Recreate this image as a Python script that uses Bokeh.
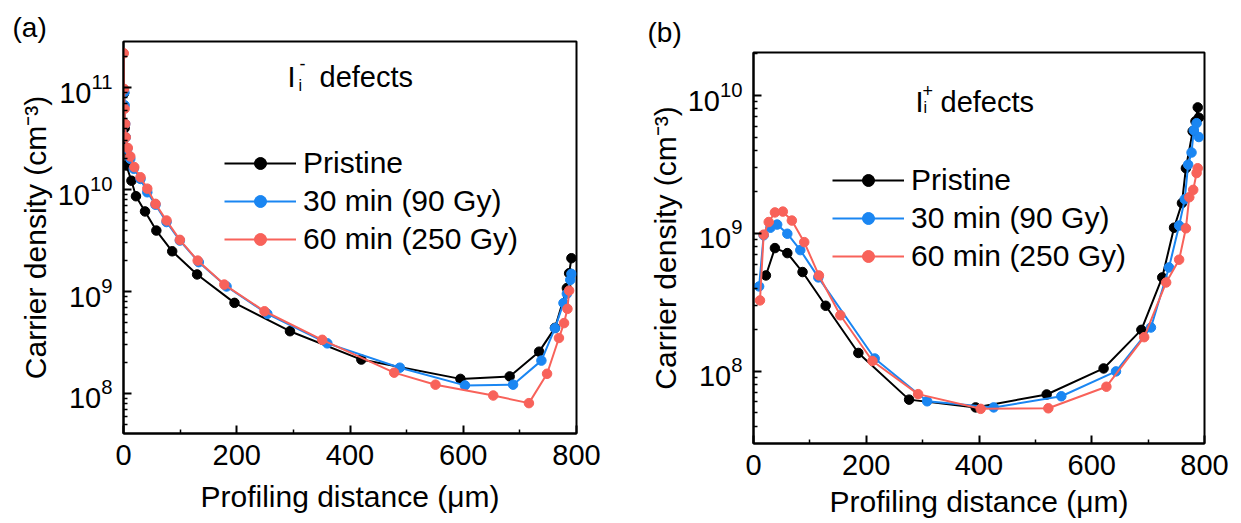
from bokeh.plotting import figure
from bokeh.layouts import row, column
from bokeh.models import Range1d, Legend, LegendItem, Label, FixedTicker
from bokeh.embed import file_html
from bokeh.resources import INLINE

FONT = "Liberation Sans"
COLORS = ["#000000", "#1a86f2", "#f8625a"]
LEGEND_LABELS = ["Pristine", "30 min (90 Gy)", "60 min (250 Gy)"]
X_TICKS = [0, 200, 400, 600, 800]
X_MINOR = [100, 300, 500, 700]
Y_TICKS_A = [1e8, 1e9, 1e10, 1e11]
Y_TICKS_B = [1e8, 1e9, 1e10]
X_LABEL = "Profiling distance (\u03bcm)"
Y_LABEL = "Carrier density (cm\u207b\u00b3)"

# ---- panel (a): I_i^- defects ----
a_pristine_x = [1, 2, 3, 5, 14, 22, 38, 58, 86, 130, 196, 294, 420, 595, 682, 734, 762, 783, 787, 791]
a_pristine_y = [8.8e10, 4.0e10, 2.6e10, 1.72e10, 1.22e10, 8.6e9, 6.1e9, 3.96e9, 2.48e9, 1.47e9,
                7.74e8, 4.08e8, 2.15e8, 1.39e8, 1.47e8, 2.57e8, 4.4e8, 1.08e9, 1.51e9, 2.12e9]
a_30min_x = [1.5, 2, 3, 4, 6.5, 12, 18, 30, 42, 56.5, 76, 99.5, 133, 182, 254, 360, 488, 603, 688,
             738, 762, 777, 783, 789, 791]
a_30min_y = [9.0e10, 6.7e10, 4.4e10, 3.26e10, 2.5e10, 2.0e10, 1.6e10, 1.27e10, 9.4e9, 7.1e9, 4.8e9,
             3.16e9, 1.94e9, 1.12e9, 6.04e8, 3.1e8, 1.79e8, 1.2e8, 1.22e8, 2.1e8, 4.37e8, 7.7e8,
             9.5e8, 1.3e9, 1.49e9]
a_60min_x = [0.5, 1, 2, 3, 4, 7.6, 12, 19, 30, 42, 56.5, 76, 99.5, 131, 178, 249, 351, 478, 551,
             653, 716, 748, 769, 778, 784, 787]
a_60min_y = [2.17e11, 9.7e10, 6.2e10, 4.4e10, 3.26e10, 2.56e10, 2.11e10, 1.66e10, 1.32e10, 1.02e10,
             7.24e9, 4.97e9, 3.21e9, 2.01e9, 1.17e9, 6.4e8, 3.36e8, 1.6e8, 1.22e8, 9.55e7, 8.04e7,
             1.56e8, 3.5e8, 4.9e8, 6.76e8, 1.02e9]

# ---- panel (b): I_i^+ defects ----
b_pristine_x = [22, 38, 60, 87, 128, 186, 276, 394, 520, 621, 688, 725, 746, 760, 767, 779, 784, 788, 790]
b_pristine_y = [4.96e8, 7.83e8, 7.2e8, 5.25e8, 2.99e8, 1.36e8, 6.24e7, 5.48e7, 6.8e7, 1.05e8, 2.0e8,
                4.8e8, 1.1e9, 1.66e9, 2.97e9, 5.5e9, 6.5e9, 8.2e9, 6.9e9]
b_30min_x = [10, 18, 30, 42, 60, 83, 115, 215, 308, 426, 546, 643, 705, 737, 755, 765, 771, 777,
             781, 786, 790]
b_30min_y = [4.13e8, 9.7e8, 1.1e9, 1.16e9, 9.95e8, 7.57e8, 4.8e8, 1.24e8, 6.07e7, 5.48e7, 6.6e7,
             1.0e8, 2.08e8, 5.67e8, 1.14e9, 1.77e9, 3.15e9, 3.86e9, 5.6e9, 6.3e9, 5.0e9]
b_60min_x = [11.5, 18, 27, 38, 52, 68, 90, 116, 154, 211, 292, 403, 523, 626, 693, 732, 755, 767,
             773, 780, 786, 788]
b_60min_y = [3.27e8, 9.8e8, 1.21e9, 1.42e9, 1.44e9, 1.24e9, 8.65e8, 4.96e8, 2.55e8, 1.19e8, 6.84e7,
             5.35e7, 5.4e7, 7.74e7, 1.77e8, 4.41e8, 6.45e8, 1.09e9, 1.83e9, 2.07e9, 2.74e9, 2.97e9]


def log_minors(lo, hi):
    out = []
    for e in range(6, 13):
        for k in range(2, 10):
            v = k * 10.0 ** e
            if lo < v < hi:
                out.append(v)
    return out


def make_panel(width, height, borders, y_lo, y_hi, y_ticks, series, letter, letter_offset,
               letter_standoff, defect_sign, defect_pos, legend_pos, xstand):
    bl, br, bt, bb = borders
    p = figure(width=width, height=height, x_range=Range1d(0, 800), y_range=Range1d(y_lo, y_hi),
               y_axis_type="log", output_backend="svg", toolbar_location=None,
               min_border_left=bl, min_border_right=br, min_border_top=bt, min_border_bottom=bb)
    p.xgrid.visible = False
    p.ygrid.visible = False
    p.outline_line_color = "black"
    p.outline_line_width = 2
    p.title.text = letter
    p.title.align = "left"
    p.title.offset = letter_offset
    p.title.standoff = letter_standoff
    p.title.text_font = FONT
    p.title.text_font_size = "28px"
    p.title.text_font_style = "normal"
    p.title.text_color = "black"
    p.xaxis.ticker = FixedTicker(ticks=X_TICKS, minor_ticks=X_MINOR)
    p.yaxis.ticker = FixedTicker(ticks=y_ticks, minor_ticks=log_minors(y_lo, y_hi))
    p.xaxis.axis_label = X_LABEL
    p.yaxis.axis_label = Y_LABEL
    for ax in (p.xaxis[0], p.yaxis[0]):
        ax.axis_line_width = 2
        ax.major_tick_in = 8
        ax.major_tick_out = 0
        ax.minor_tick_in = 4
        ax.minor_tick_out = 0
        ax.major_tick_line_width = 2
        ax.minor_tick_line_width = 1.5
        ax.major_label_text_font = FONT
        ax.major_label_text_font_size = "29px"
        ax.major_label_text_color = "black"
        ax.axis_label_text_font = FONT
        ax.axis_label_text_font_size = "30px"
        ax.axis_label_text_font_style = "normal"
        ax.axis_label_text_color = "black"
    p.yaxis.major_label_standoff = 11
    p.yaxis.axis_label_standoff = 3
    p.xaxis.major_label_standoff = xstand[0]
    p.xaxis.axis_label_standoff = xstand[1]

    items = []
    for (xs, ys), col, lab in zip(series, COLORS, LEGEND_LABELS):
        rl = p.line(xs, ys, line_color=col, line_width=2)
        rs = p.scatter(xs, ys, size=9.5, fill_color=col, line_color=col)
        items.append(LegendItem(label=lab, renderers=[rl, rs]))
    legend = Legend(items=items, location=legend_pos, orientation="vertical",
                    glyph_width=72, glyph_height=30, label_height=30, label_standoff=7,
                    spacing=4, padding=0, margin=0, border_line_alpha=0,
                    background_fill_alpha=0, label_text_font=FONT,
                    label_text_font_size="30px", label_text_color="black")
    p.add_layout(legend, "center")

    def lab(text, x, y, size):
        p.add_layout(Label(x=x, y=y, x_units="screen", y_units="screen", text=text,
                           text_font=FONT, text_font_size=size, text_color="black",
                           text_baseline="alphabetic", text_align="left"))

    (ix, iy), (sx, sy), (px_, py_), (dx, dy) = defect_pos
    lab("I", ix, iy, "29px")
    lab("i", sx, sy, "16px")
    lab(defect_sign, px_, py_, "18px")
    lab("defects", dx, dy, "29px")
    return p


pa = make_panel(628, 523, (123, 52, 41, 90), 4.05e7, 2.83e11, Y_TICKS_A,
                [(a_pristine_x, a_pristine_y), (a_30min_x, a_30min_y), (a_60min_x, a_60min_y)],
                "(a)", -111, -2, "-",
                ((164, 357), (175, 348), (176, 370), (196, 357)),
                (101, 177), (11, 12))
pb = make_panel(613, 523, (125, 37, 52, 80), 3.0e7, 2.05e10, Y_TICKS_B,
                [(b_pristine_x, b_pristine_y), (b_30min_x, b_30min_y), (b_60min_x, b_60min_y)],
                "(b)", -106, 9, "+",
                ((162, 342), (170, 336), (169, 353), (187, 342)),
                (79, 170), (11, 7))

layout = row(column(pa), column(pb))
open("out.html", "w").write(file_html(layout, INLINE))
